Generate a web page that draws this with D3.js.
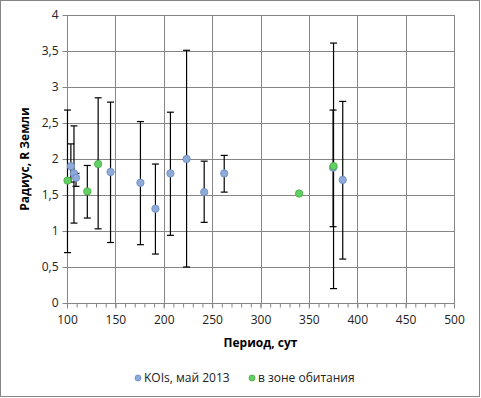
<!DOCTYPE html>
<html><head><meta charset="utf-8">
<script src="https://cdn.jsdelivr.net/npm/d3@7"></script>
<style>
body{margin:0;background:#fff;}
text{font-family:"Open Sans","Liberation Sans",sans-serif;}
</style></head>
<body><svg id="c" width="481" height="398"></svg>
<script>
// KOIs, май 2013 (blue)
const koiPeriod = [104, 107.2, 109.3, 145, 175.9, 191.4, 206.9, 223.6, 241.8, 262.5, 375, 385];
const koiRadius = [1.90, 1.80, 1.74, 1.82, 1.67, 1.31, 1.80, 2.00, 1.54, 1.80, 1.88, 1.71];
const koiLow    = [1.68, 1.11, 1.62, 0.84, 0.81, 0.68, 0.94, 0.50, 1.12, 1.54, 1.06, 0.61];
const koiHigh   = [2.21, 2.46, 1.80, 2.79, 2.52, 1.93, 2.65, 3.51, 1.97, 2.05, 2.68, 2.80];
// в зоне обитания (green)
const hzPeriod = [100.5, 121, 132.2, 339.9, 375.5];
const hzRadius = [1.70, 1.55, 1.93, 1.52, 1.90];
const hzLow    = [0.70, 1.18, 1.03, 1.50, 0.20];
const hzHigh   = [2.68, 1.91, 2.85, 1.54, 3.61];
const xTicks = [100,150,200,250,300,350,400,450,500];
const yTicks = [0,0.5,1,1.5,2,2.5,3,3.5,4];
const seriesNames = ["KOIs, май 2013", "в зоне обитания"];

const svg = d3.select("#c");
svg.append("rect").attr("x",0.5).attr("y",0.5).attr("width",479).attr("height",396)
  .attr("fill","#fff").attr("stroke","#868686");

const L=67, R=454, T=15, B=303;
const x = d3.scaleLinear().domain([100,500]).range([L,R]);
const y = d3.scaleLinear().domain([0,4]).range([B,T]);
const fmt = d => String(d).replace(".", ",");

// grid
const g = svg.append("g");
g.selectAll(".hg").data(yTicks.slice(1)).join("line")
  .attr("x1",L).attr("x2",R).attr("y1",d=>Math.round(y(d))+0.5).attr("y2",d=>Math.round(y(d))+0.5)
  .attr("stroke","#868686");
g.selectAll(".vg").data(xTicks.slice(1)).join("line")
  .attr("y1",T).attr("y2",B).attr("x1",d=>Math.round(x(d))+0.5).attr("x2",d=>Math.round(x(d))+0.5)
  .attr("stroke","#868686");

// axes
const yAxis = d3.axisLeft(y).tickValues(yTicks).tickFormat(fmt).tickSize(5).tickPadding(4);
const ya = svg.append("g").attr("transform",`translate(${L+0.5},0)`).call(yAxis);
const xMinor = d3.range(100,501,10);
const xAxisMinor = d3.axisBottom(x).tickValues(xMinor).tickFormat("").tickSize(4);
svg.append("g").attr("transform",`translate(0,${B+0.5})`).call(xAxisMinor)
  .call(s=>s.select(".domain").remove())
  .call(s=>s.selectAll("line").attr("stroke","#868686"));
const xAxis = d3.axisBottom(x).tickValues(xTicks).tickFormat(d=>d).tickSize(5).tickPadding(7);
const xa = svg.append("g").attr("transform",`translate(0,${B+0.5})`).call(xAxis);
[ya,xa].forEach(a=>{
  a.selectAll("path,line").attr("stroke","#868686");
  a.select(".domain").attr("d", null);
  a.selectAll("text").attr("font-size",12).attr("fill","#222");
});
svg.append("line").attr("x1",L+0.5).attr("x2",L+0.5).attr("y1",T).attr("y2",B+1).attr("stroke","#868686");
svg.append("line").attr("x1",L).attr("x2",R+1).attr("y1",B+0.5).attr("y2",B+0.5).attr("stroke","#868686");

// titles
svg.append("text").attr("transform",`translate(29,${(T+B)/2}) rotate(-90)`)
  .attr("text-anchor","middle").attr("font-size",12).attr("font-weight","bold").attr("fill","#000")
  .text("Радиус, R Земли");
svg.append("text").attr("x",(L+R)/2).attr("y",347).attr("text-anchor","middle")
  .attr("font-size",12).attr("font-weight","bold").attr("fill","#000").text("Период, сут");

// error bars
function errBars(per, lo, hi){
  const eg = svg.append("g").attr("stroke","#000").attr("stroke-width",1.2);
  per.forEach((p,i)=>{
    if (hi[i]-lo[i] < 0.1) return;
    const cx = x(p);
    eg.append("line").attr("x1",cx).attr("x2",cx).attr("y1",y(lo[i])).attr("y2",y(hi[i]));
    eg.append("line").attr("x1",cx-3.5).attr("x2",cx+3.5).attr("y1",y(lo[i])).attr("y2",y(lo[i]));
    eg.append("line").attr("x1",cx-3.5).attr("x2",cx+3.5).attr("y1",y(hi[i])).attr("y2",y(hi[i]));
  });
}
errBars(koiPeriod, koiLow, koiHigh);
errBars(hzPeriod, hzLow, hzHigh);

const blueFill="#8eaad8", blueStroke="#6b8cc4", greenFill="#62d062", greenStroke="#45a845";
svg.append("g").selectAll("circle").data(koiPeriod).join("circle")
  .attr("cx",d=>x(d)).attr("cy",(d,i)=>y(koiRadius[i])).attr("r",3.7)
  .attr("fill",blueFill).attr("stroke",blueStroke).attr("stroke-width",0.8);
svg.append("g").selectAll("circle").data(hzPeriod).join("circle")
  .attr("cx",d=>x(d)).attr("cy",(d,i)=>y(hzRadius[i])).attr("r",3.7)
  .attr("fill",greenFill).attr("stroke",greenStroke).attr("stroke-width",0.8);

// legend
const leg = [{n:seriesNames[0],f:blueFill,s:blueStroke,x:138},{n:seriesNames[1],f:greenFill,s:greenStroke,x:252}];
leg.forEach(l=>{
  svg.append("circle").attr("cx",l.x).attr("cy",378).attr("r",3).attr("fill",l.f).attr("stroke",l.s).attr("stroke-width",0.8);
  svg.append("text").attr("x",l.x+6).attr("y",382).attr("font-size",12).attr("fill","#222").text(l.n);
});
</script></body></html>
